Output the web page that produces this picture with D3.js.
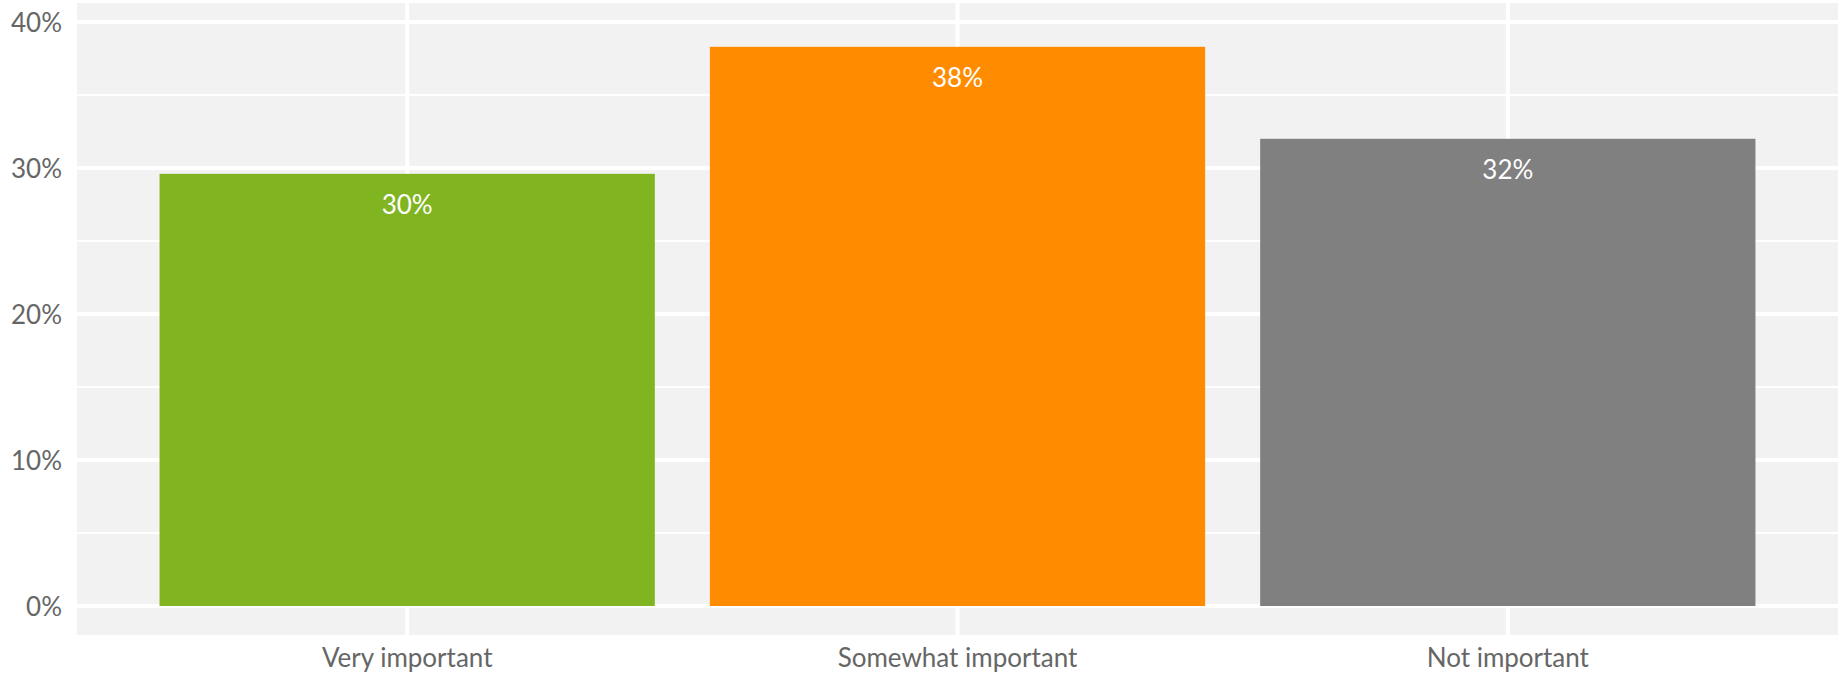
<!DOCTYPE html>
<html>
<head>
<meta charset="utf-8">
<script src="https://cdn.jsdelivr.net/npm/d3@7"></script>
<style>
  html, body { margin: 0; padding: 0; background: #ffffff; }
  svg { display: block; font-family: Lato, "Open Sans", sans-serif; }
</style>
</head>
<body>
<svg id="chart" width="1843" height="676"></svg>
<script>
const categories = ["Very important", "Somewhat important", "Not important"];
const values = [29.6, 38.3, 32.0];
const valueLabels = ["30%", "38%", "32%"];
const colors = ["#80b521", "#ff8c00", "#808080"];
const majorTicks = [0, 10, 20, 30, 40];
const majorTickLabels = ["0%", "10%", "20%", "30%", "40%"];
const minorTicks = [5, 15, 25, 35];

const svg = d3.select("#chart");
const panel = { left: 77, right: 1838 };

const y = d3.scaleLinear().domain([0, 40]).range([606, 22]);
const yTop = y(41.3), yBottom = y(-1.98);

const x = d3.scaleBand()
  .domain(categories)
  .range([panel.left, panel.right])
  .paddingInner(0.1)
  .paddingOuter(0.15);

// panel background
svg.append("rect")
  .attr("x", panel.left).attr("y", yTop)
  .attr("width", panel.right - panel.left)
  .attr("height", yBottom - yTop)
  .attr("fill", "#f2f2f2");

// minor gridlines
svg.append("g").selectAll("line").data(minorTicks).join("line")
  .attr("x1", panel.left).attr("x2", panel.right)
  .attr("y1", d => y(d)).attr("y2", d => y(d))
  .attr("stroke", "#ffffff").attr("stroke-width", 2);

// major gridlines
svg.append("g").selectAll("line").data(majorTicks).join("line")
  .attr("x1", panel.left).attr("x2", panel.right)
  .attr("y1", d => y(d)).attr("y2", d => y(d))
  .attr("stroke", "#ffffff").attr("stroke-width", 4);

// vertical gridlines
svg.append("g").selectAll("line").data(categories).join("line")
  .attr("x1", d => x(d) + x.bandwidth() / 2).attr("x2", d => x(d) + x.bandwidth() / 2)
  .attr("y1", yTop).attr("y2", yBottom)
  .attr("stroke", "#ffffff").attr("stroke-width", 4);

// bars
svg.append("g").selectAll("rect").data(categories).join("rect")
  .attr("x", d => x(d))
  .attr("width", x.bandwidth())
  .attr("y", (d, i) => y(values[i]))
  .attr("height", (d, i) => y(0) - y(values[i]))
  .attr("fill", (d, i) => colors[i]);

// value labels
svg.append("g").selectAll("text").data(categories).join("text")
  .attr("x", d => x(d) + x.bandwidth() / 2)
  .attr("y", (d, i) => y(values[i]) + 40)
  .attr("text-anchor", "middle")
  .attr("fill", "#ffffff")
  .attr("font-size", 26)
  .text((d, i) => valueLabels[i]);

// y axis
const yAxis = d3.axisLeft(y).tickValues(majorTicks)
  .tickFormat((d, i) => majorTickLabels[i]).tickSize(0).tickPadding(0);
const gy = svg.append("g").attr("transform", `translate(62,0)`).call(yAxis);
gy.select(".domain").remove();
gy.selectAll("text").attr("font-size", 26).attr("fill", "#666666")
  .attr("font-family", "Lato, sans-serif").attr("dy", "0.36em");

// x axis
const xAxis = d3.axisBottom(x).tickSize(0).tickPadding(0);
const gx = svg.append("g").attr("transform", `translate(0,667)`).call(xAxis);
gx.select(".domain").remove();
gx.selectAll("text").attr("font-size", 26).attr("fill", "#666666")
  .attr("font-family", "Lato, sans-serif").attr("y", 0).attr("dy", "0");
</script>
</body>
</html>
